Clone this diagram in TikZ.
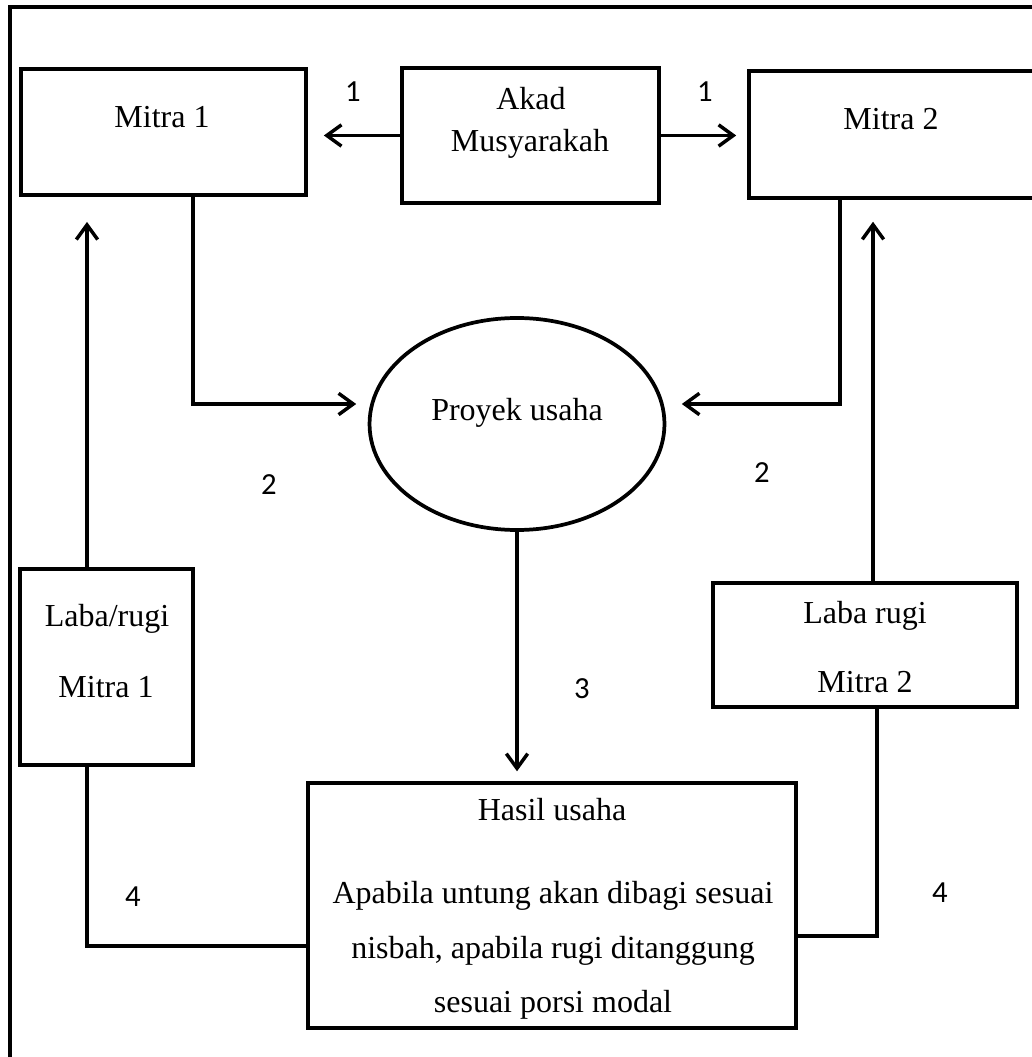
\documentclass[tikz,border=0pt]{standalone}
\usepackage{fontspec}
\setmainfont{Liberation Serif}
\newfontfamily\numfont{Carlito}
\usetikzlibrary{arrows.meta,fit,shapes.geometric}
\tikzset{
  box/.style={draw, line width=1.4pt, inner sep=0pt, rectangle},
  txt/.style={inner sep=0pt, anchor=base, font=\fontsize{12pt}{14pt}\selectfont},
  num/.style={inner sep=0pt, font=\numfont\fontsize{11.5pt}{13pt}\selectfont},
  conn/.style={line width=1.3pt},
  arr/.style={line width=1.3pt, -{Straight Barb[length=5.5pt,width=8pt,line width=1.3pt]}},
}
\begin{document}
\begin{tikzpicture}[x=0.375pt, y=-0.375pt]
\useasboundingbox (0,0) rectangle (1032,1057);
\clip (0,0) rectangle (1032,1057);
\fill[white] (0,0) rectangle (1032,1057);
% outer frame
\draw[line width=1.3pt] (10,1080) -- (10,7) -- (1060,7);

% boxes
\node[box, fit={(21,69) (306,195)}] (m1) {};
\node[box, fit={(402,68) (659,203)}] (akad) {};
\node[box, fit={(749,71) (1040,198)}] (m2) {};
\node[draw, ellipse, line width=1.4pt, inner sep=0pt,
      minimum width=110.6pt, minimum height=79.5pt] (proj) at (517,424) {};
\node[box, fit={(20,569) (193,765)}] (lr1) {};
\node[box, fit={(713,583) (1017,707)}] (lr2) {};
\node[box, fit={(308,783) (796,1028)}] (hasil) {};

% texts
\node[txt] (tm1) at (162,128) {Mitra 1};
\node[txt] (takad1) at (531,110) {Akad};
\node[txt] (takad2) at (530,152) {Musyarakah};
\node[txt] (tm2) at (891,130) {Mitra 2};
\node[txt] (tproj) at (517,420) {Proyek usaha};
\node[txt] (tlr1a) at (107,626) {Laba/rugi};
\node[txt] (tlr1b) at (106,697) {Mitra 1};
\node[txt] (tlr2a) at (865,623) {Laba rugi};
\node[txt] (tlr2b) at (865,692) {Mitra 2};
\node[txt] (th1) at (552,820) {Hasil usaha};
\node[txt] (th2) at (553,903) {Apabila untung akan dibagi sesuai};
\node[txt] (th3) at (553,958) {nisbah, apabila rugi ditanggung};
\node[txt] (th4) at (553,1012) {sesuai porsi modal};

% number labels
\node[num] (n1a) at (353,92) {1};
\node[num] (n1b) at (705,92) {1};
\node[num] (n2a) at (269,485) {2};
\node[num] (n2b) at (762,473) {2};
\node[num] (n3) at (582,689) {3};
\node[num] (n4a) at (133,897) {4};
\node[num] (n4b) at (940,893) {4};

% bend coordinates
\coordinate (c1) at (193,404);
\coordinate (c2) at (840,404);
\coordinate (c3) at (87,400);
\coordinate (c4) at (873,400);
\coordinate (c5) at (87,946);
\coordinate (c6) at (877,936);

% connectors
\draw[arr, shorten >=6pt] (akad.west) -- (m1.east |- akad.west);
\draw[arr, shorten >=4.1pt] (akad.east) -- (m2.west |- akad.east);
\draw[arr, shorten >=4.3pt] (m1.south -| c1) -- (c1) -- (proj.west |- c1);
\draw[arr, shorten >=5.8pt] (m2.south -| c2) -- (c2) -- (proj.east |- c2);
\draw[arr, shorten >=9.4pt] (lr1.north -| c3) -- (m1.south -| c3);
\draw[arr, shorten >=8.2pt] (lr2.north -| c4) -- (m2.south -| c4);
\draw[arr, shorten >=3.7pt] (proj.south) -- (proj.south |- hasil.north);
\draw[conn] (lr1.south -| c5) -- (c5) -- (hasil.west |- c5);
\draw[conn] (lr2.south -| c6) -- (c6) -- (hasil.east |- c6);
\end{tikzpicture}
\end{document}
